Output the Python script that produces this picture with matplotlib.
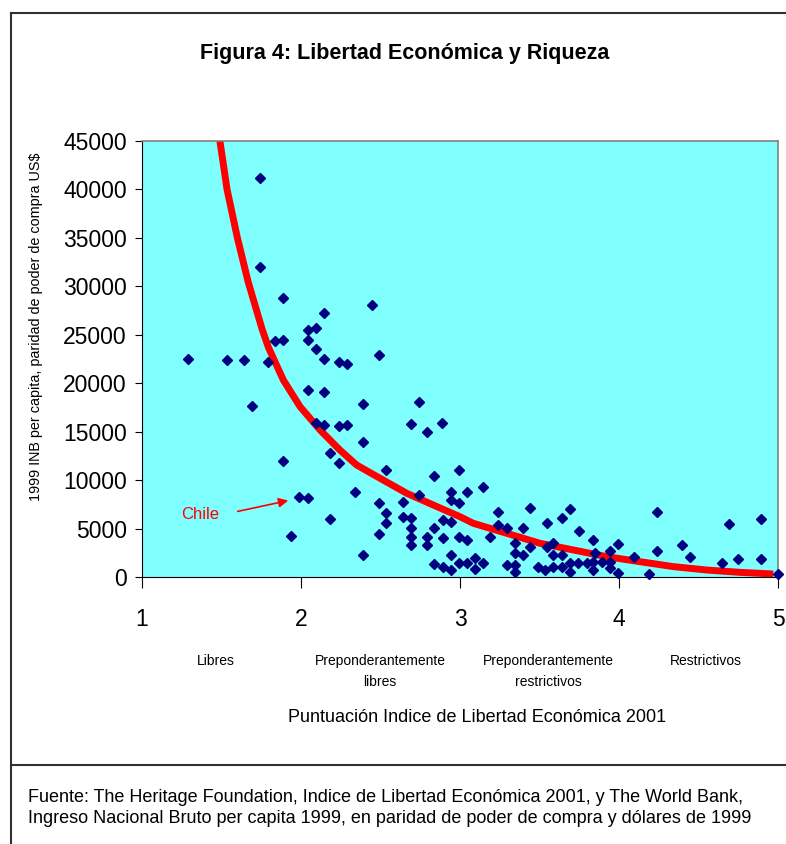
import matplotlib
matplotlib.use('Agg')
import matplotlib.pyplot as plt
from matplotlib.lines import Line2D

W, H = 786, 844

# Puntuacion del indice de libertad economica 2001 (x) e INB per capita 1999 (y)
puntaje = [1.742, 1.742, 1.889, 2.444, 2.143, 2.094, 2.042, 2.042, 1.836, 1.889,
           2.094, 1.287, 1.535, 1.640, 1.794, 2.143, 2.239, 2.289, 2.493, 2.042,
           2.143, 1.692, 2.392, 2.744, 2.094, 2.143, 2.239, 2.289, 2.692, 2.889,
           2.794, 2.392, 2.182, 2.239, 1.889, 2.535, 2.834, 2.994, 2.340, 1.989,
           2.042, 2.744, 2.941, 3.042, 2.493, 2.644, 2.941, 2.994, 2.535, 2.182,
           2.644, 2.692, 2.535, 2.891, 2.941, 2.493, 1.937, 2.692, 2.692, 2.692,
           2.794, 2.834, 2.794, 2.891, 2.994, 3.042, 2.392, 2.941, 2.834, 2.891,
           2.941, 2.994, 3.042, 3.094, 3.094, 3.147, 3.147, 3.189, 3.241, 3.241,
           3.294, 3.294, 3.346, 3.346, 3.346, 3.346, 3.399, 3.399, 3.440, 3.440,
           3.493, 3.545, 3.545, 3.535, 3.587, 3.587, 3.587, 3.640, 3.640, 3.640,
           3.692, 3.748, 3.692, 3.744, 3.796, 3.839, 3.850, 3.839, 3.891, 3.943,
           3.692, 3.839, 3.943, 3.996, 3.996, 3.943, 4.094, 4.190, 4.242, 4.242,
           4.398, 4.447, 4.646, 4.694, 4.750, 4.893, 4.893, 4.997]
inb = [41200, 31960, 28760, 28070, 27210, 25660, 25490, 24460, 24390, 24460,
       23500, 22500, 22400, 22400, 22220, 22500, 22160, 21980, 22910, 19300,
       19060, 17680, 17820, 18090, 15860, 15690, 15620, 15690, 15790, 15860,
       14930, 13900, 12830, 11800, 11970, 11040, 10420, 11040, 8800, 8290,
       8120, 8460, 8800, 8800, 7600, 7770, 7950, 7600, 6570, 6020,
       6230, 6060, 5540, 5880, 5710, 4440, 4230, 5020, 4160, 3300,
       4160, 5020, 3300, 3990, 4160, 3820, 2270, 2270, 1340, 1070,
       700, 1410, 1410, 1930, 800, 1410, 9320, 4160, 6740, 5370,
       5020, 1240, 3480, 2450, 1240, 550, 5020, 2270, 7090, 3130,
       1070, 3130, 5540, 720, 3480, 2270, 1070, 6060, 2270, 1070,
       7000, 4780, 1410, 1410, 1410, 3820, 2450, 1500, 1500, 1500,
       550, 720, 900, 440, 3400, 2710, 2030, 310, 6740, 2710,
       3300, 2100, 1480, 5470, 1860, 5950, 1860, 310]

# Curva de tendencia (roja)
tend_x = [1.49, 1.535, 1.60, 1.667, 1.755, 1.795, 1.889, 1.994, 2.12, 2.245,
          2.35, 2.497, 2.665, 2.832, 3.0, 3.084, 3.294, 3.503, 3.713, 3.922,
          4.132, 4.342, 4.552, 4.761, 4.97]
tend_y = [45000, 40000, 35000, 30500, 25600, 23700, 20330, 17580, 15170, 13100,
          11560, 10190, 8640, 7430, 6220, 5540, 4510, 3480, 2790, 2100,
          1580, 1070, 720, 480, 310]

x_ticks = [1, 2, 3, 4, 5]
y_ticks = [0, 5000, 10000, 15000, 20000, 25000, 30000, 35000, 40000, 45000]
categorias = ['Libres', 'Preponderantemente\nlibres',
              'Preponderantemente\nrestrictivos', 'Restrictivos']

plt.rcParams['font.family'] = ['Liberation Sans', 'DejaVu Sans']

fig = plt.figure(figsize=(W / 100, H / 100), dpi=100, facecolor='white')


def fx(px):
    return px / W


def fy(py):
    return 1 - py / H


ax = fig.add_axes([fx(142), fy(577), fx(778) - fx(142), fy(141) - fy(577)])
ax.set_facecolor('#80FFFF')

ax.plot(tend_x, tend_y, color='#FF0000', lw=5, solid_capstyle='butt',
        solid_joinstyle='round', zorder=2)
ax.plot(puntaje, inb, linestyle='none', marker='D', markersize=4.7,
        color='#000080', zorder=3, clip_on=False)

ax.set_xlim(1, 5)
ax.set_ylim(0, 45000)
ax.set_xticks(x_ticks, [str(t) for t in x_ticks])
ax.set_yticks(y_ticks, [str(t) for t in y_ticks])
ax.tick_params(axis='y', direction='out', length=5, pad=6, labelsize=16.5, color='black')
ax.tick_params(axis='x', direction='out', length=8, pad=14, labelsize=16.5, color='black')
for s in ['left', 'bottom']:
    ax.spines[s].set_color('black')
for s in ['top', 'right']:
    ax.spines[s].set_color('#808080')
    ax.spines[s].set_linewidth(1.2)

# Chile
ax.annotate('', xy=(1.937, 7950), xytext=(1.585, 6710),
            arrowprops=dict(arrowstyle='-|>', color='#FF0000', lw=1.2,
                            mutation_scale=14))
ax.text(1.365, 6500, 'Chile', color='#FF0000', fontsize=12, ha='center', va='center')

# textos
fig.text(fx(405), fy(53), 'Figura 4: Libertad Económica y Riqueza',
         fontweight='bold', fontsize=15.5, ha='center', va='center')
fig.text(fx(36), fy(327), '1999 INB per capita, paridad de poder de compra US$',
         rotation=90, fontsize=10.4, ha='center', va='center')

cat_px = [216, 380, 548, 706]
for px, c in zip(cat_px, categorias):
    fig.text(fx(px), fy(654), c, fontsize=10, ha='center', va='top', linespacing=1.6)

fig.text(fx(477), fy(718), 'Puntuación Indice de Libertad Económica 2001',
         fontsize=13, ha='center', va='center')

fig.text(fx(28), fy(808),
         'Fuente: The Heritage Foundation, Indice de Libertad Económica 2001, y The World Bank,\n'
         'Ingreso Nacional Bruto per capita 1999, en paridad de poder de compra y dólares de 1999',
         fontsize=13, ha='left', va='center', linespacing=1.25)

# marco
for xs, ys in [([11, 11], [13, H]), ([11, W], [13, 13]), ([11, W], [765, 765])]:
    fig.add_artist(Line2D([fx(x) for x in xs], [fy(y) for y in ys],
                          color='#303030', lw=1.5))

fig.savefig('out.png', dpi=100, facecolor='white')
